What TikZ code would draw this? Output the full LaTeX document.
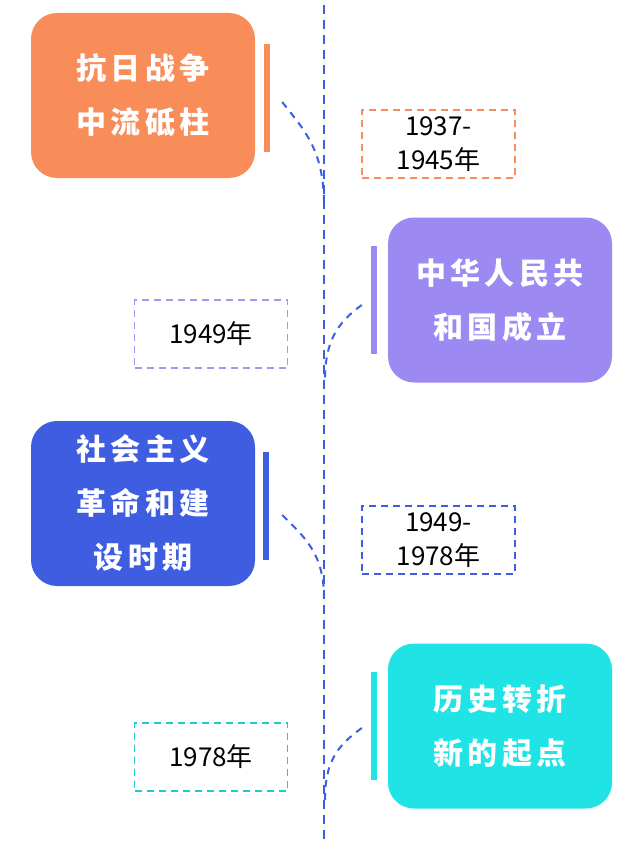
\documentclass[tikz,border=0pt]{standalone}
\usepackage{fontspec}
\newfontfamily\cjk{Noto Sans CJK SC}
\newfontfamily\cjktitle[LetterSpace=14]{Noto Sans CJK SC}
\definecolor{tlOrange}{HTML}{F98D59}
\definecolor{tlPurple}{HTML}{9D89F2}
\definecolor{tlBlue}{HTML}{3F5DE0}
\definecolor{tlCyan}{HTML}{1FE3E4}
\tikzset{
  tl line/.style={draw=tlBlue, dash pattern=on 9pt off 6pt, line width=2.2pt},
  tl link/.style={draw=tlBlue, dash pattern=on 7pt off 6pt, line width=2pt},
  tl card/.style={rounded corners=26pt, minimum width=224pt, minimum height=165pt, inner sep=0pt,
    text=white, align=center, font=\cjktitle\bfseries\fontsize{30}{54}\selectfont},
  tl bar/.style={minimum width=6pt, minimum height=108pt, inner sep=0pt},
  tl date/.style={dash pattern=on 7pt off 5pt, line width=1.8pt, minimum width=153pt, minimum height=68pt,
    inner sep=0pt, align=center, font=\cjk\fontsize{26}{34}\selectfont},
}
\begin{document}
\begin{tikzpicture}[x=1pt,y=-1pt]
  \useasboundingbox (0,0) rectangle (641,843);
  % timeline
  \coordinate (top) at (324,5);
  \coordinate (bottom) at (324,843);
  \draw[tl line] (top) -- (bottom);
  % cards
  \node[tl card, fill=tlOrange] (war) at (143,95.5) {抗日战争\\中流砥柱};
  \node[tl card, fill=tlPurple] (prc) at (500,300) {中华人民共\\和国成立};
  \node[tl card, fill=tlBlue] (soc) at (143,503.5) {社会主义\\革命和建\\设时期};
  \node[tl card, fill=tlCyan] (turn) at (500,726) {历史转折\\新的起点};
  % bars
  \node[tl bar, fill=tlOrange] (warbar) at (267,98) {};
  \node[tl bar, fill=tlPurple] (prcbar) at (374,300) {};
  \node[tl bar, fill=tlBlue] (socbar) at (266,506) {};
  \node[tl bar, fill=tlCyan] (turnbar) at (374,726) {};
  % dates
  \node[tl date, draw=tlOrange] (wardate) at (438.5,144) {1937-\\1945年};
  \node[tl date, draw=tlPurple!90] (prcdate) at (211,334) {1949年};
  \node[tl date, draw=tlBlue] (socdate) at (438.5,540) {1949-\\1978年};
  \node[tl date, draw=tlCyan!90!black] (turndate) at (211,757) {1978年};
  % links to the timeline
  \coordinate (warin) at (324,205);
  \coordinate (prcin) at (325,380);
  \coordinate (socin) at (324,598);
  \coordinate (turnin) at (325,800);
  \draw[tl link] ([xshift=12pt,yshift=-4pt]warbar.east) .. controls +(22,28) and +(0,-55) .. (warin);
  \draw[tl link] ([xshift=-9pt,yshift=-5pt]prcbar.west) .. controls +(-25,18) and +(0,-38) .. (prcin);
  \draw[tl link] ([xshift=13pt,yshift=-9pt]socbar.east) .. controls +(22,22) and +(0,-45) .. (socin);
  \draw[tl link] ([xshift=-9pt,yshift=-2pt]turnbar.west) .. controls +(-25,18) and +(0,-38) .. (turnin);
\end{tikzpicture}
\end{document}
